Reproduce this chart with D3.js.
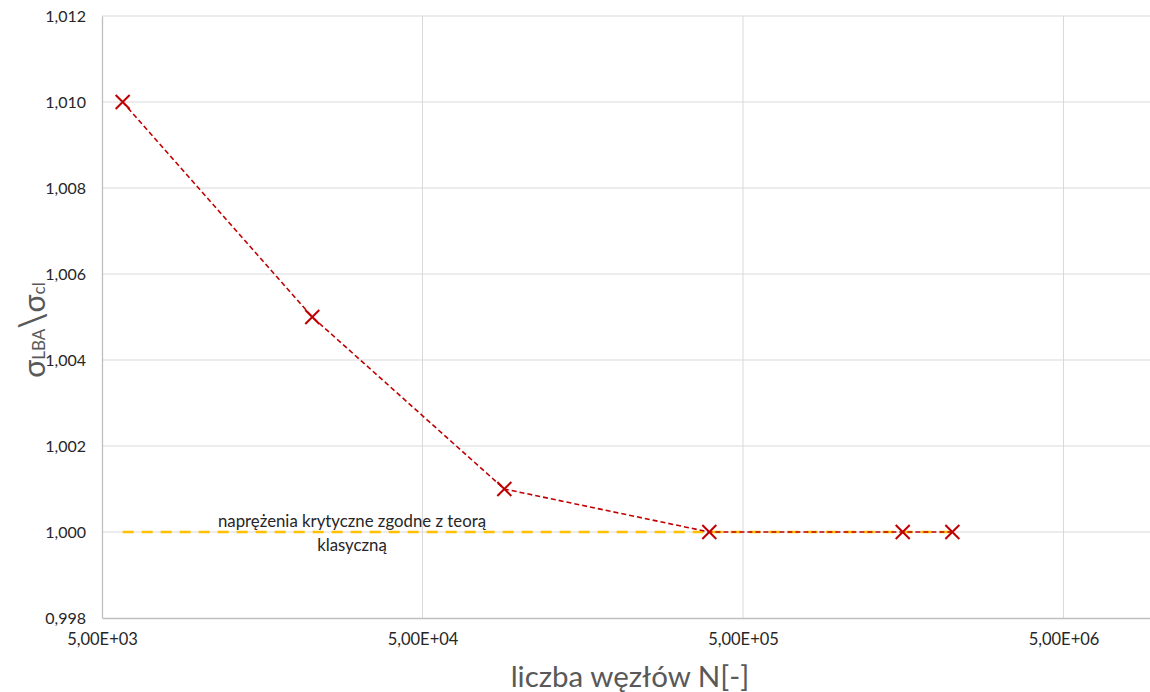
<!DOCTYPE html>
<html>
<head>
<meta charset="utf-8">
<script src="https://cdn.jsdelivr.net/npm/d3@7"></script>
<style>
  body { margin: 0; background: #fff; }
  text { font-family: Lato, "Open Sans", sans-serif; }
</style>
</head>
<body>
<div id="chart"></div>
<script>
// nodes count vs. sigma_LBA / sigma_cl
const nodes = [5800, 22650, 90000, 392500, 1575000, 2250000];
const ratio = [1.010, 1.005, 1.001, 1.000, 1.000, 1.000];
const classicX = [5800, 2250000];
const classicY = [1.000, 1.000];
const xTicks = [5e3, 5e4, 5e5, 5e6];
const yTicks = [0.998, 1.000, 1.002, 1.004, 1.006, 1.008, 1.010, 1.012];
const noteLines = ['naprężenia krytyczne zgodne z teorą', 'klasyczną'];

const width = 1150;
const height = 692;
const margin = { left: 102, top: 16, right: 0, bottom: 74 };

const svg = d3.select('#chart')
  .append('svg')
  .attr('width', width)
  .attr('height', height);

const decadePx = 320.5;
const plotW = width - margin.left - margin.right;

const x = d3.scaleLog()
  .domain([5000, 5000 * Math.pow(10, plotW / decadePx)])
  .range([margin.left, width - margin.right]);

const y = d3.scaleLinear()
  .domain([0.998, 1.012])
  .range([height - margin.bottom, margin.top]);

const fmtY = (v) => v.toFixed(3).replace('.', ',');
const fmtX = (v) => {
  const e = Math.floor(Math.log10(v));
  const m = v / Math.pow(10, e);
  return m.toFixed(2).replace('.', ',') + 'E+' + String(e).padStart(2, '0');
};

// gridlines
svg.append('g')
  .selectAll('line')
  .data(yTicks.slice(1))
  .enter()
    .append('line')
    .attr('x1', margin.left)
    .attr('x2', width - margin.right)
    .attr('y1', (d) => y(d))
    .attr('y2', (d) => y(d))
    .attr('stroke', '#d9d9d9')
    .attr('stroke-width', 1);

svg.append('g')
  .selectAll('line')
  .data(xTicks.slice(1))
  .enter()
    .append('line')
    .attr('x1', (d) => x(d))
    .attr('x2', (d) => x(d))
    .attr('y1', margin.top)
    .attr('y2', height - margin.bottom)
    .attr('stroke', '#d9d9d9')
    .attr('stroke-width', 1);

// axes
const xAxis = d3.axisBottom(x)
  .tickValues(xTicks)
  .tickFormat(fmtX)
  .tickSize(0)
  .tickPadding(15);
const yAxis = d3.axisLeft(y)
  .tickValues(yTicks)
  .tickFormat(fmtY)
  .tickSize(0)
  .tickPadding(16);

const gx = svg.append('g')
  .attr('transform', `translate(0,${height - margin.bottom})`)
  .call(xAxis);
gx.select('.domain').attr('stroke', '#bfbfbf').attr('stroke-width', 1.3);
gx.selectAll('text')
  .attr('font-size', 16.5)
  .attr('fill', '#262626')
  .attr('font-family', 'Lato, sans-serif');

const gy = svg.append('g')
  .attr('transform', `translate(${margin.left},0)`)
  .call(yAxis);
gy.select('.domain').attr('stroke', '#bfbfbf').attr('stroke-width', 1.3);
gy.selectAll('text')
  .attr('font-size', 16)
  .attr('fill', '#262626')
  .attr('font-family', 'Lato, sans-serif');

// classical theory line
const line = d3.line()
  .x((d) => x(d[0]))
  .y((d) => y(d[1]));

svg.append('path')
  .attr('d', line(classicX.map((v, i) => [v, classicY[i]])))
  .attr('fill', 'none')
  .attr('stroke', '#ffc000')
  .attr('stroke-width', 2.5)
  .attr('stroke-dasharray', '11,8');

// series
svg.append('path')
  .attr('d', line(nodes.map((v, i) => [v, ratio[i]])))
  .attr('fill', 'none')
  .attr('stroke', '#c00000')
  .attr('stroke-width', 1.6)
  .attr('stroke-dasharray', '5,3');

const mk = 7;
svg.append('g')
  .selectAll('path')
  .data(nodes.map((v, i) => [v, ratio[i]]))
  .enter()
    .append('path')
    .attr('d', (d) => {
      const cx = x(d[0]), cy = y(d[1]);
      return `M${cx - mk},${cy - mk}L${cx + mk},${cy + mk}M${cx - mk},${cy + mk}L${cx + mk},${cy - mk}`;
    })
    .attr('stroke', '#c00000')
    .attr('stroke-width', 2)
    .attr('fill', 'none');

// note
svg.append('g')
  .selectAll('text')
  .data(noteLines)
  .enter()
    .append('text')
    .attr('x', 352)
    .attr('y', (d, i) => 527 + i * 24)
    .attr('text-anchor', 'middle')
    .attr('font-size', 16.8)
    .attr('fill', '#262626')
    .text((d) => d);

// axis titles
svg.append('text')
  .attr('x', (margin.left + width - margin.right) / 2 + 4)
  .attr('y', 687)
  .attr('text-anchor', 'middle')
  .attr('font-size', 29.5)
  .attr('fill', '#595959')
  .text('liczba węzłów N[-]');

const yt = svg.append('text')
  .attr('text-anchor', 'middle')
  .attr('transform', `translate(45,${330}) rotate(-90)`)
  .attr('font-size', 30)
  .attr('fill', '#595959');
yt.append('tspan').text('σ');
yt.append('tspan').attr('font-size', 17).text('LBA');
yt.append('tspan').attr('font-size', 36).text('\\');
yt.append('tspan').text('σ');
yt.append('tspan').attr('font-size', 17).text('cl');
</script>
</body>
</html>
